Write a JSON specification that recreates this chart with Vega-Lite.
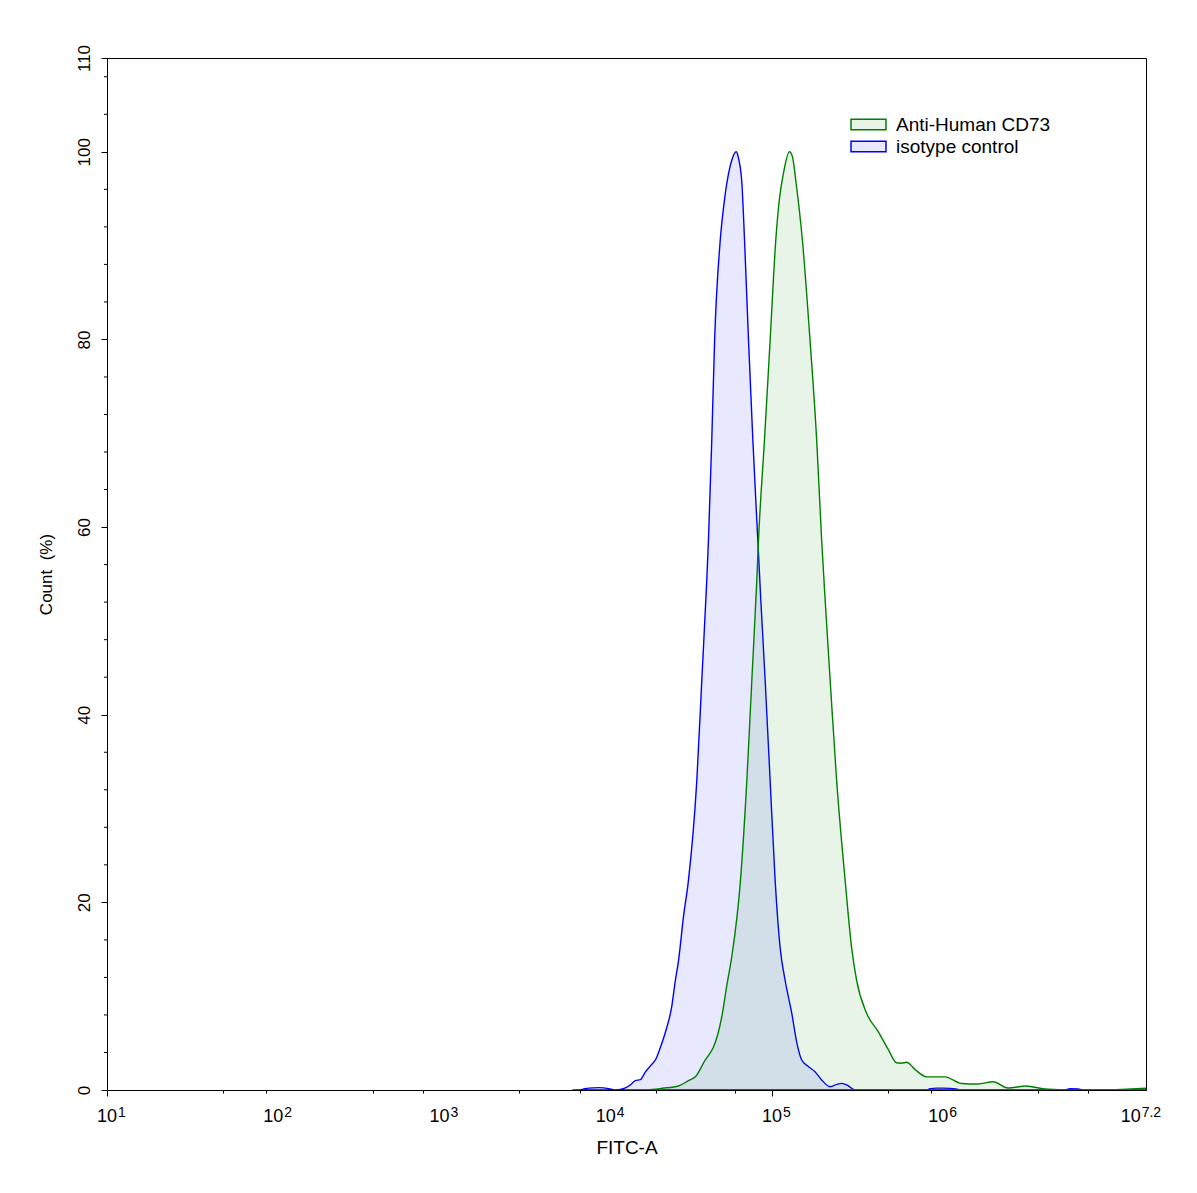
{
  "$schema": "https://vega.github.io/schema/vega-lite/v6.json",
  "autosize": {"type": "none"},
  "padding": {"left": 107, "top": 58, "right": 51, "bottom": 103},
  "width": 1039,
  "height": 1032,
  "background": "white",
  "config": {
    "view": {"stroke": "black", "strokeWidth": 1},
    "font": "Liberation Sans",
    "axis": {"domainColor": "black", "tickColor": "black", "labelColor": "black", "titleColor": "black", "grid": false, "labelFont": "Liberation Sans", "titleFont": "Liberation Sans", "titleFontWeight": "normal", "labelOverlap": false, "labelBound": false}
  },
  "datasets": {
    "hist": [
      {"sample": "isotype control", "log_fitc": 3.80, "count_pct": 0},
      {"sample": "isotype control", "log_fitc": 3.838, "count_pct": 0},
      {"sample": "isotype control", "log_fitc": 3.87, "count_pct": 0.12},
      {"sample": "isotype control", "log_fitc": 3.898, "count_pct": 0.2},
      {"sample": "isotype control", "log_fitc": 3.958, "count_pct": 0.25},
      {"sample": "isotype control", "log_fitc": 4.018, "count_pct": 0.15},
      {"sample": "isotype control", "log_fitc": 4.054, "count_pct": 0},
      {"sample": "isotype control", "log_fitc": 4.090, "count_pct": 0.05},
      {"sample": "isotype control", "log_fitc": 4.148, "count_pct": 0.53},
      {"sample": "isotype control", "log_fitc": 4.178, "count_pct": 1.0},
      {"sample": "isotype control", "log_fitc": 4.208, "count_pct": 1.1},
      {"sample": "isotype control", "log_fitc": 4.238, "count_pct": 1.9},
      {"sample": "isotype control", "log_fitc": 4.270, "count_pct": 2.6},
      {"sample": "isotype control", "log_fitc": 4.302, "count_pct": 3.3},
      {"sample": "isotype control", "log_fitc": 4.330, "count_pct": 4.6},
      {"sample": "isotype control", "log_fitc": 4.358, "count_pct": 6.1},
      {"sample": "isotype control", "log_fitc": 4.398, "count_pct": 9.0},
      {"sample": "isotype control", "log_fitc": 4.419, "count_pct": 11.7},
      {"sample": "isotype control", "log_fitc": 4.438, "count_pct": 13.8},
      {"sample": "isotype control", "log_fitc": 4.468, "count_pct": 18.5},
      {"sample": "isotype control", "log_fitc": 4.498, "count_pct": 22.4},
      {"sample": "isotype control", "log_fitc": 4.548, "count_pct": 33.0},
      {"sample": "isotype control", "log_fitc": 4.578, "count_pct": 43.7},
      {"sample": "isotype control", "log_fitc": 4.608, "count_pct": 54.4},
      {"sample": "isotype control", "log_fitc": 4.618, "count_pct": 58.6},
      {"sample": "isotype control", "log_fitc": 4.638, "count_pct": 69.3},
      {"sample": "isotype control", "log_fitc": 4.655, "count_pct": 79.9},
      {"sample": "isotype control", "log_fitc": 4.689, "count_pct": 90.6},
      {"sample": "isotype control", "log_fitc": 4.709, "count_pct": 94.1},
      {"sample": "isotype control", "log_fitc": 4.739, "count_pct": 97.7},
      {"sample": "isotype control", "log_fitc": 4.760, "count_pct": 99.2},
      {"sample": "isotype control", "log_fitc": 4.785, "count_pct": 100},
      {"sample": "isotype control", "log_fitc": 4.799, "count_pct": 99.3},
      {"sample": "isotype control", "log_fitc": 4.819, "count_pct": 96.7},
      {"sample": "isotype control", "log_fitc": 4.835, "count_pct": 90.6},
      {"sample": "isotype control", "log_fitc": 4.859, "count_pct": 79.9},
      {"sample": "isotype control", "log_fitc": 4.885, "count_pct": 69.3},
      {"sample": "isotype control", "log_fitc": 4.915, "count_pct": 58.6},
      {"sample": "isotype control", "log_fitc": 4.933, "count_pct": 52.2},
      {"sample": "isotype control", "log_fitc": 4.959, "count_pct": 43.7},
      {"sample": "isotype control", "log_fitc": 4.989, "count_pct": 33.0},
      {"sample": "isotype control", "log_fitc": 5.019, "count_pct": 22.4},
      {"sample": "isotype control", "log_fitc": 5.049, "count_pct": 15.2},
      {"sample": "isotype control", "log_fitc": 5.079, "count_pct": 11.7},
      {"sample": "isotype control", "log_fitc": 5.119, "count_pct": 8.2},
      {"sample": "isotype control", "log_fitc": 5.150, "count_pct": 5.0},
      {"sample": "isotype control", "log_fitc": 5.179, "count_pct": 3.2},
      {"sample": "isotype control", "log_fitc": 5.219, "count_pct": 2.5},
      {"sample": "isotype control", "log_fitc": 5.259, "count_pct": 1.95},
      {"sample": "isotype control", "log_fitc": 5.299, "count_pct": 1.07},
      {"sample": "isotype control", "log_fitc": 5.350, "count_pct": 0.35},
      {"sample": "isotype control", "log_fitc": 5.390, "count_pct": 0.6},
      {"sample": "isotype control", "log_fitc": 5.419, "count_pct": 0.71},
      {"sample": "isotype control", "log_fitc": 5.459, "count_pct": 0.45},
      {"sample": "isotype control", "log_fitc": 5.500, "count_pct": 0},
      {"sample": "isotype control", "log_fitc": 5.928, "count_pct": 0},
      {"sample": "isotype control", "log_fitc": 5.952, "count_pct": 0.15},
      {"sample": "isotype control", "log_fitc": 5.990, "count_pct": 0.2},
      {"sample": "isotype control", "log_fitc": 6.030, "count_pct": 0.2},
      {"sample": "isotype control", "log_fitc": 6.108, "count_pct": 0.12},
      {"sample": "isotype control", "log_fitc": 6.132, "count_pct": 0},
      {"sample": "isotype control", "log_fitc": 6.757, "count_pct": 0},
      {"sample": "isotype control", "log_fitc": 6.793, "count_pct": 0.15},
      {"sample": "isotype control", "log_fitc": 6.841, "count_pct": 0.12},
      {"sample": "isotype control", "log_fitc": 6.871, "count_pct": 0},
      {"sample": "isotype control", "log_fitc": 7.25, "count_pct": 0},
      {"sample": "Anti-Human CD73", "log_fitc": 4.25, "count_pct": 0},
      {"sample": "Anti-Human CD73", "log_fitc": 4.278, "count_pct": 0.05},
      {"sample": "Anti-Human CD73", "log_fitc": 4.338, "count_pct": 0.18},
      {"sample": "Anti-Human CD73", "log_fitc": 4.438, "count_pct": 0.43},
      {"sample": "Anti-Human CD73", "log_fitc": 4.498, "count_pct": 1.0},
      {"sample": "Anti-Human CD73", "log_fitc": 4.539, "count_pct": 1.4},
      {"sample": "Anti-Human CD73", "log_fitc": 4.599, "count_pct": 3.2},
      {"sample": "Anti-Human CD73", "log_fitc": 4.630, "count_pct": 4.0},
      {"sample": "Anti-Human CD73", "log_fitc": 4.649, "count_pct": 4.6},
      {"sample": "Anti-Human CD73", "log_fitc": 4.675, "count_pct": 6.0},
      {"sample": "Anti-Human CD73", "log_fitc": 4.698, "count_pct": 7.8},
      {"sample": "Anti-Human CD73", "log_fitc": 4.729, "count_pct": 11.2},
      {"sample": "Anti-Human CD73", "log_fitc": 4.759, "count_pct": 14.3},
      {"sample": "Anti-Human CD73", "log_fitc": 4.809, "count_pct": 22.0},
      {"sample": "Anti-Human CD73", "log_fitc": 4.849, "count_pct": 33.0},
      {"sample": "Anti-Human CD73", "log_fitc": 4.879, "count_pct": 43.7},
      {"sample": "Anti-Human CD73", "log_fitc": 4.909, "count_pct": 54.4},
      {"sample": "Anti-Human CD73", "log_fitc": 4.919, "count_pct": 58.6},
      {"sample": "Anti-Human CD73", "log_fitc": 4.955, "count_pct": 69.3},
      {"sample": "Anti-Human CD73", "log_fitc": 4.989, "count_pct": 79.9},
      {"sample": "Anti-Human CD73", "log_fitc": 5.023, "count_pct": 90.6},
      {"sample": "Anti-Human CD73", "log_fitc": 5.045, "count_pct": 95.0},
      {"sample": "Anti-Human CD73", "log_fitc": 5.069, "count_pct": 97.7},
      {"sample": "Anti-Human CD73", "log_fitc": 5.105, "count_pct": 100},
      {"sample": "Anti-Human CD73", "log_fitc": 5.123, "count_pct": 99.5},
      {"sample": "Anti-Human CD73", "log_fitc": 5.145, "count_pct": 96.7},
      {"sample": "Anti-Human CD73", "log_fitc": 5.183, "count_pct": 90.6},
      {"sample": "Anti-Human CD73", "log_fitc": 5.229, "count_pct": 79.9},
      {"sample": "Anti-Human CD73", "log_fitc": 5.269, "count_pct": 69.3},
      {"sample": "Anti-Human CD73", "log_fitc": 5.299, "count_pct": 58.6},
      {"sample": "Anti-Human CD73", "log_fitc": 5.320, "count_pct": 52.2},
      {"sample": "Anti-Human CD73", "log_fitc": 5.350, "count_pct": 43.7},
      {"sample": "Anti-Human CD73", "log_fitc": 5.389, "count_pct": 33.0},
      {"sample": "Anti-Human CD73", "log_fitc": 5.440, "count_pct": 22.4},
      {"sample": "Anti-Human CD73", "log_fitc": 5.479, "count_pct": 15.2},
      {"sample": "Anti-Human CD73", "log_fitc": 5.509, "count_pct": 11.7},
      {"sample": "Anti-Human CD73", "log_fitc": 5.569, "count_pct": 8.2},
      {"sample": "Anti-Human CD73", "log_fitc": 5.640, "count_pct": 6.2},
      {"sample": "Anti-Human CD73", "log_fitc": 5.700, "count_pct": 4.3},
      {"sample": "Anti-Human CD73", "log_fitc": 5.750, "count_pct": 2.9},
      {"sample": "Anti-Human CD73", "log_fitc": 5.778, "count_pct": 2.85},
      {"sample": "Anti-Human CD73", "log_fitc": 5.810, "count_pct": 2.95},
      {"sample": "Anti-Human CD73", "log_fitc": 5.860, "count_pct": 2.2},
      {"sample": "Anti-Human CD73", "log_fitc": 5.930, "count_pct": 1.4},
      {"sample": "Anti-Human CD73", "log_fitc": 6.040, "count_pct": 1.4},
      {"sample": "Anti-Human CD73", "log_fitc": 6.140, "count_pct": 0.7},
      {"sample": "Anti-Human CD73", "log_fitc": 6.240, "count_pct": 0.64},
      {"sample": "Anti-Human CD73", "log_fitc": 6.330, "count_pct": 0.88},
      {"sample": "Anti-Human CD73", "log_fitc": 6.420, "count_pct": 0.21},
      {"sample": "Anti-Human CD73", "log_fitc": 6.530, "count_pct": 0.43},
      {"sample": "Anti-Human CD73", "log_fitc": 6.641, "count_pct": 0.1},
      {"sample": "Anti-Human CD73", "log_fitc": 6.801, "count_pct": 0},
      {"sample": "Anti-Human CD73", "log_fitc": 7.021, "count_pct": 0},
      {"sample": "Anti-Human CD73", "log_fitc": 7.159, "count_pct": 0.1},
      {"sample": "Anti-Human CD73", "log_fitc": 7.25, "count_pct": 0.2}
    ],
    "xlabels": [
      {"pos": 1, "exp": "1"},
      {"pos": 2, "exp": "2"},
      {"pos": 3, "exp": "3"},
      {"pos": 4, "exp": "4"},
      {"pos": 5, "exp": "5"},
      {"pos": 6, "exp": "6"},
      {"pos": 7.2, "exp": "7.2"}
    ],
    "yminor": [
      {"v": 4}, {"v": 8}, {"v": 12}, {"v": 16},
      {"v": 24}, {"v": 28}, {"v": 32}, {"v": 36},
      {"v": 44}, {"v": 48}, {"v": 52}, {"v": 56},
      {"v": 64}, {"v": 68}, {"v": 72}, {"v": 76},
      {"v": 84}, {"v": 88}, {"v": 92}, {"v": 96},
      {"v": 104}, {"v": 108}
    ]
  },
  "layer": [
    {
      "data": {"name": "hist"},
      "mark": {"type": "area", "interpolate": "monotone", "strokeWidth": 1.4, "clip": true},
      "encoding": {
        "x": {
          "field": "log_fitc", "type": "quantitative",
          "scale": {"domain": [1, 7.25], "nice": false, "zero": false},
          "axis": {
            "values": [1, 1.30103, 1.47712, 1.60206, 1.69897, 1.77815, 1.8451, 1.90309, 1.95424,
                       2, 2.30103, 2.47712, 2.60206, 2.69897, 2.77815, 2.8451, 2.90309, 2.95424,
                       3, 3.30103, 3.47712, 3.60206, 3.69897, 3.77815, 3.8451, 3.90309, 3.95424,
                       4, 4.30103, 4.47712, 4.60206, 4.69897, 4.77815, 4.8451, 4.90309, 4.95424,
                       5, 5.30103, 5.47712, 5.60206, 5.69897, 5.77815, 5.8451, 5.90309, 5.95424,
                       6, 6.30103, 6.47712, 6.60206, 6.69897, 6.77815, 6.8451, 6.90309, 6.95424, 7],
            "labels": false,
            "tickSize": {"condition": {"test": "datum.value % 1 === 0", "value": 6}, "value": 3},
            "title": "FITC-A",
            "titleFontSize": 19,
            "titlePadding": 42
          }
        },
        "y": {
          "field": "count_pct", "type": "quantitative", "stack": null,
          "scale": {"domain": [0, 110], "nice": false},
          "axis": {
            "values": [0, 20, 40, 60, 80, 100, 110],
            "labelOverlap": false,
            "labelFlush": false,
            "labelAngle": -90,
            "labelAlign": "center",
            "labelBaseline": "bottom",
            "labelFontSize": 17,
            "labelPadding": 8,
            "tickSize": 6,
            "title": "Count\u00a0 (%)",
            "titleFontSize": 17,
            "titlePadding": 20
          }
        },
        "fill": {
          "field": "sample", "type": "nominal",
          "scale": {"domain": ["Anti-Human CD73", "isotype control"], "range": ["rgba(0,128,0,0.09)", "rgba(0,0,255,0.09)"]},
          "legend": {"orient": "none", "legendX": 752, "legendY": 57, "title": null, "symbolType": "M-2,-0.6H2V0.6H-2Z", "symbolSize": 306.25, "symbolStrokeWidth": 1.5, "labelFontSize": 19, "labelFont": "Liberation Sans", "labelColor": "black", "labelOffset": 18, "rowPadding": 2, "labelLimit": 300}
        },
        "stroke": {
          "field": "sample", "type": "nominal",
          "scale": {"domain": ["Anti-Human CD73", "isotype control"], "range": ["#008000", "#0000ff"]},
          "legend": {"orient": "none", "legendX": 752, "legendY": 57, "title": null, "symbolType": "M-2,-0.6H2V0.6H-2Z", "symbolSize": 306.25, "symbolStrokeWidth": 1.5, "labelFontSize": 19, "labelFont": "Liberation Sans", "labelColor": "black", "labelOffset": 18, "rowPadding": 2, "labelLimit": 300}
        }
      }
    },
    {
      "data": {"name": "yminor"},
      "mark": {"type": "rule", "color": "black", "strokeWidth": 1, "xOffset": -3},
      "encoding": {
        "y": {"field": "v", "type": "quantitative"},
        "x": {"datum": 1, "type": "quantitative"},
        "x2": {"datum": 1}
      }
    },
    {
      "data": {"name": "xlabels"},
      "transform": [{"filter": "datum.exp !== '7.2'"}],
      "mark": {"type": "text", "text": "10", "align": "right", "baseline": "alphabetic", "dx": 10, "dy": 32, "fontSize": 18, "font": "Liberation Sans", "color": "black"},
      "encoding": {
        "x": {"field": "pos", "type": "quantitative"},
        "y": {"datum": 0, "type": "quantitative"}
      }
    },
    {
      "data": {"name": "xlabels"},
      "transform": [{"filter": "datum.exp !== '7.2'"}],
      "mark": {"type": "text", "align": "left", "baseline": "alphabetic", "dx": 11, "dy": 27, "fontSize": 14, "font": "Liberation Sans", "color": "black"},
      "encoding": {
        "x": {"field": "pos", "type": "quantitative"},
        "y": {"datum": 0, "type": "quantitative"},
        "text": {"field": "exp"}
      }
    },
    {
      "data": {"name": "xlabels"},
      "transform": [{"filter": "datum.exp === '7.2'"}],
      "mark": {"type": "text", "text": "10", "align": "right", "baseline": "alphabetic", "dx": 3, "dy": 32, "fontSize": 18, "font": "Liberation Sans", "color": "black"},
      "encoding": {
        "x": {"field": "pos", "type": "quantitative"},
        "y": {"datum": 0, "type": "quantitative"}
      }
    },
    {
      "data": {"name": "xlabels"},
      "transform": [{"filter": "datum.exp === '7.2'"}],
      "mark": {"type": "text", "align": "left", "baseline": "alphabetic", "dx": 4, "dy": 27, "fontSize": 14, "font": "Liberation Sans", "color": "black"},
      "encoding": {
        "x": {"field": "pos", "type": "quantitative"},
        "y": {"datum": 0, "type": "quantitative"},
        "text": {"field": "exp"}
      }
    }
  ]
}
